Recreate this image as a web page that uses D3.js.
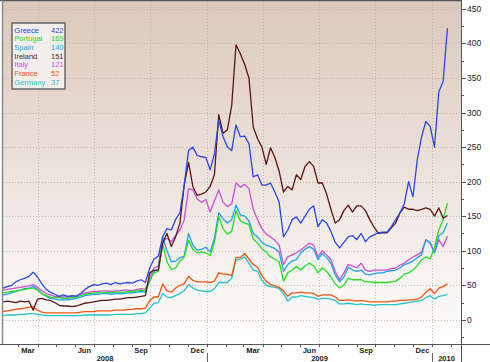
<!DOCTYPE html>
<html><head><meta charset="utf-8">
<script src="https://cdn.jsdelivr.net/npm/d3@7"></script>
<style>body{margin:0;background:#fff}svg{display:block}text{font-family:"Liberation Sans",Arial,sans-serif}</style>
</head><body><svg id="c" width="490" height="362"></svg>
<script>
const dates = [
"2008-02-05","2008-02-12","2008-02-19","2008-02-26","2008-03-04","2008-03-11","2008-03-18","2008-03-25",
"2008-04-01","2008-04-08","2008-04-15","2008-04-22","2008-04-29","2008-05-06","2008-05-13","2008-05-20","2008-05-27",
"2008-06-03","2008-06-10","2008-06-17","2008-06-24","2008-07-01","2008-07-08","2008-07-15","2008-07-22","2008-07-29",
"2008-08-05","2008-08-12","2008-08-19","2008-08-26","2008-09-02","2008-09-09","2008-09-16","2008-09-23","2008-09-30",
"2008-10-07","2008-10-14","2008-10-21","2008-10-28","2008-11-04","2008-11-11","2008-11-18","2008-11-25",
"2008-12-02","2008-12-09","2008-12-16","2008-12-23","2008-12-30",
"2009-01-06","2009-01-13","2009-01-20","2009-01-27","2009-02-03","2009-02-10","2009-02-17","2009-02-24",
"2009-03-03","2009-03-10","2009-03-17","2009-03-24","2009-03-31","2009-04-07","2009-04-14","2009-04-21","2009-04-28",
"2009-05-05","2009-05-12","2009-05-19","2009-05-26","2009-06-02","2009-06-09","2009-06-16","2009-06-23","2009-06-30",
"2009-07-07","2009-07-14","2009-07-21","2009-07-28","2009-08-04","2009-08-11","2009-08-18","2009-08-25",
"2009-09-01","2009-09-08","2009-09-15","2009-09-22","2009-09-29","2009-10-06","2009-10-13","2009-10-20","2009-10-27",
"2009-11-03","2009-11-10","2009-11-17","2009-11-24","2009-12-01","2009-12-08","2009-12-15","2009-12-22","2009-12-29",
"2010-01-05","2010-01-12","2010-01-19","2010-01-26"];

const greece = [46,48,50,55,58,60,63,69,62,52, 44,40,37,34,36,34,35,34,38,44, 48,51,50,52,53,51,54,52,53,54, 53,56,58,54,75,88,92,120,132,130, 145,155,195,245,250,238,236,235,217,240, 289,265,250,245,282,265,266,255,207,210, 195,195,198,185,170,120,130,145,149,140, 150,160,165,135,145,140,128,112,104,112, 120,122,116,125,113,120,123,126,127,127, 135,145,155,168,200,178,231,265,287,280, 250,330,345,422];
const portugal = [39,40,41,42,43,44,45,46,43,38, 35,33,32,32,31,31,32,33,35,37, 38,39,39,39,40,39,40,40,40,41, 41,42,43,42,58,68,70,110,84,73, 75,85,91,115,102,97,98,97,93,112, 149,132,124,128,158,143,140,138,117,111, 103,98,91,88,84,56,68,72,77,72, 78,82,78,68,75,70,62,52,46,50, 60,58,58,58,55,55,54,54,54,54, 55,56,60,66,68,72,78,87,91,88, 105,130,145,169];
const spain = [36,37,39,41,43,45,46,48,44,38, 34,31,30,29,29,29,30,31,33,35, 36,37,37,38,38,37,38,38,38,39, 39,40,41,40,56,70,73,120,100,84, 85,90,92,125,108,101,102,105,98,118, 155,146,140,145,166,152,150,143,125,120, 112,108,106,103,98,70,80,85,87,97, 102,106,102,87,96,90,82,65,55,62, 76,72,70,72,66,65,67,68,68,70, 71,72,75,80,82,85,90,94,116,112, 97,122,126,140];
const ireland = [26,27,26,25,27,26,27,14,30,31, 29,28,25,21,20,20,19,20,22,24, 25,26,27,28,28,29,30,30,31,32, 32,33,34,35,68,72,72,110,125,106, 120,140,195,228,193,180,182,185,193,210, 297,270,275,310,398,385,370,350,279,262, 250,225,249,235,215,185,193,188,210,203, 222,229,222,198,198,182,160,140,145,158, 166,156,165,165,158,145,134,125,126,126, 133,140,155,163,160,160,158,160,162,160, 150,162,147,151];
const italy = [43,44,45,46,47,48,49,51,47,42, 38,36,34,33,33,33,34,35,37,39, 40,41,41,42,42,41,42,42,43,43, 42,44,45,44,60,75,78,115,118,113, 122,130,145,190,188,175,170,174,156,172, 188,170,164,168,198,192,196,190,160,145, 132,124,120,115,108,80,91,94,97,101, 106,111,108,91,100,94,87,70,58,68, 80,78,75,82,72,70,72,72,72,72, 74,75,79,82,87,91,94,98,116,111, 97,116,106,121];
const france = [12,13,14,15,16,17,18,19,14,11, 10,10,10,10,10,10,10,10,11,12, 12,12,13,13,13,13,14,14,14,15, 15,16,16,17,28,33,33,52,42,40, 46,50,52,63,57,55,55,55,54,56, 68,66,66,64,90,90,96,88,80,76, 64,56,51,49,47,42,34,39,39,40, 39,39,38,34,36,36,36,33,28,28, 29,28,27,28,27,26,26,26,26,26, 27,27,28,28,29,29,30,33,40,45, 38,46,48,52];
const germany = [6,7,7,7,8,8,9,9,8,7, 6,6,6,6,6,6,6,6,6,7, 7,7,7,7,7,7,8,8,8,8, 8,9,9,10,17,24,25,38,33,32, 35,38,42,51,46,43,42,41,41,45, 54,54,54,60,86,88,91,82,72,70, 57,50,48,47,45,38,27,33,33,35, 34,33,32,30,31,31,30,28,23,23, 24,23,22,23,22,22,21,22,22,22, 22,22,23,24,25,26,27,28,32,35, 30,34,35,37];

const seriesNames = ["Greece","Portugal","Spain","Ireland","Italy","France","Germany"];
const seriesValues = [greece, portugal, spain, ireland, italy, france, germany];
const seriesColors = ["#2b47e3","#22dd22","#1fa3e6","#5a1616","#c94fd6","#ee5511","#22c4c8"];
const legendValues = ["422","169","140","151","121","52","37"];
const yTickValues = [0,50,100,150,200,250,300,350,400,450];
const monthLabels = ["Mar","Jun","Sep","Dec"];
const yearLabels = ["2008","2009","2010"];

const parse = d3.timeParse("%Y-%m-%d");
const dts = dates.map(parse);
const svg = d3.select("#c");
const L = 3, R = 461, T = 1, B = 344;
const x = d3.scaleTime().domain([new Date(2008,1,5), new Date(2010,1,17)]).range([L, R]);
const y = d3.scaleLinear().domain([-35, 460]).range([B, 2]);

const defs = svg.append("defs");
const g = defs.append("linearGradient").attr("id","bg").attr("x1",0).attr("y1",0).attr("x2",0).attr("y2",1);
g.append("stop").attr("offset","0%").attr("stop-color","#dbc8bc");
g.append("stop").attr("offset","55%").attr("stop-color","#eee5df");
g.append("stop").attr("offset","100%").attr("stop-color","#ffffff");
defs.append("clipPath").attr("id","clip").append("rect").attr("x",L).attr("y",T).attr("width",R-L).attr("height",B-T);

svg.append("rect").attr("x",L).attr("y",T).attr("width",R-L).attr("height",B-T).attr("fill","url(#bg)");

// grid
svg.append("g").selectAll("line").data(yTickValues).join("line")
  .attr("x1",L).attr("x2",R).attr("y1",d=>Math.round(y(d))+0.5).attr("y2",d=>Math.round(y(d))+0.5)
  .attr("stroke","#b9aca4").attr("stroke-width",0.8).attr("stroke-dasharray","1,2");
const quarters = x.ticks(d3.timeMonth.every(3));
svg.append("g").selectAll("line").data(quarters).join("line")
  .attr("x1",d=>Math.round(x(d))+0.5).attr("x2",d=>Math.round(x(d))+0.5).attr("y1",T).attr("y2",B)
  .attr("stroke","#b9aca4").attr("stroke-width",0.8).attr("stroke-dasharray","1,2");

// lines
const line = d3.line().x((d,i)=>x(dts[i])).y(d=>y(d));
const order = [6,5,4,2,1,3,0];
const lg = svg.append("g").attr("clip-path","url(#clip)");
order.forEach(k=>{
  lg.append("path").datum(seriesValues[k]).attr("d",line).attr("fill","none")
    .attr("stroke",seriesColors[k]).attr("stroke-width",1.3).attr("stroke-linejoin","round");
});

// frame
svg.append("line").attr("x1",0).attr("x2",R).attr("y1",0.5).attr("y2",0.5).attr("stroke","#555").attr("stroke-width",1.5);
svg.append("line").attr("x1",2.5).attr("x2",2.5).attr("y1",0).attr("y2",B).attr("stroke","#8a8a8a").attr("stroke-width",1.5);
svg.append("line").attr("x1",0).attr("x2",490).attr("y1",B+0.5).attr("y2",B+0.5).attr("stroke","#555").attr("stroke-width",1);
svg.append("line").attr("x1",R+0.5).attr("x2",R+0.5).attr("y1",0).attr("y2",362).attr("stroke","#555").attr("stroke-width",1);

// y axis ticks
const minor = d3.range(-25, 460, 25).filter(v=>v%50!==0);
svg.append("g").selectAll("line").data(minor).join("line")
  .attr("x1",R).attr("x2",R+3).attr("y1",d=>Math.round(y(d))+0.5).attr("y2",d=>Math.round(y(d))+0.5)
  .attr("stroke","#555");
svg.append("g").selectAll("line").data(yTickValues).join("line")
  .attr("x1",R).attr("x2",R+5).attr("y1",d=>Math.round(y(d))+0.5).attr("y2",d=>Math.round(y(d))+0.5)
  .attr("stroke","#555");
svg.append("g").selectAll("text").data(yTickValues).join("text")
  .attr("x",R+6).attr("y",d=>y(d)+3).attr("font-size","8.5px").attr("fill","#222").text(d=>d);

// x axis ticks
const months = x.ticks(d3.timeMonth.every(1));
svg.append("g").selectAll("line").data(months).join("line")
  .attr("x1",d=>Math.round(x(d))+0.5).attr("x2",d=>Math.round(x(d))+0.5).attr("y1",B).attr("y2",B+3)
  .attr("stroke","#555");
const fmt = d3.timeFormat("%b");
const labMonths = d3.timeMonth.range(new Date(2008,1,1), new Date(2010,1,1)).filter(d=>monthLabels.includes(fmt(d)));
svg.append("g").selectAll("text").data(labMonths).join("text")
  .attr("x",d=>(x(d)+x(d3.timeMonth.offset(d,1)))/2).attr("y",352.5)
  .attr("text-anchor","middle").attr("font-size","7.5px").attr("font-weight","bold").attr("fill","#222")
  .text(d=>fmt(d));
const yearStarts = [new Date(2008,0,1), new Date(2009,0,1), new Date(2010,0,1)];
yearLabels.forEach((t,i)=>{
  const a = Math.max(L, x(yearStarts[i]));
  const b = i<2 ? x(yearStarts[i+1]) : R;
  svg.append("text").attr("x",(a+b)/2).attr("y",360.5).attr("text-anchor","middle")
    .attr("font-size","7.5px").attr("font-weight","bold").attr("fill","#222").text(t);
});
[yearStarts[1], yearStarts[2]].forEach(d=>{
  svg.append("line").attr("x1",Math.round(x(d))+0.5).attr("x2",Math.round(x(d))+0.5).attr("y1",353).attr("y2",362)
    .attr("stroke","#666").attr("stroke-width",1);
});

// legend
const lgd = svg.append("g");
lgd.append("rect").attr("x",12).attr("y",23).attr("width",53).attr("height",66)
  .attr("fill","#f2eeec").attr("stroke","#707070").attr("stroke-width",1.6);
seriesNames.forEach((n,i)=>{
  const yy = 32.8 + i*8.65;
  lgd.append("text").attr("x",14.3).attr("y",yy).attr("font-size","7.5px").attr("fill",seriesColors[i]).text(n);
  lgd.append("text").attr("x",51).attr("y",yy).attr("font-size","7.5px").attr("fill",seriesColors[i]).text(legendValues[i]);
});
</script></body></html>
